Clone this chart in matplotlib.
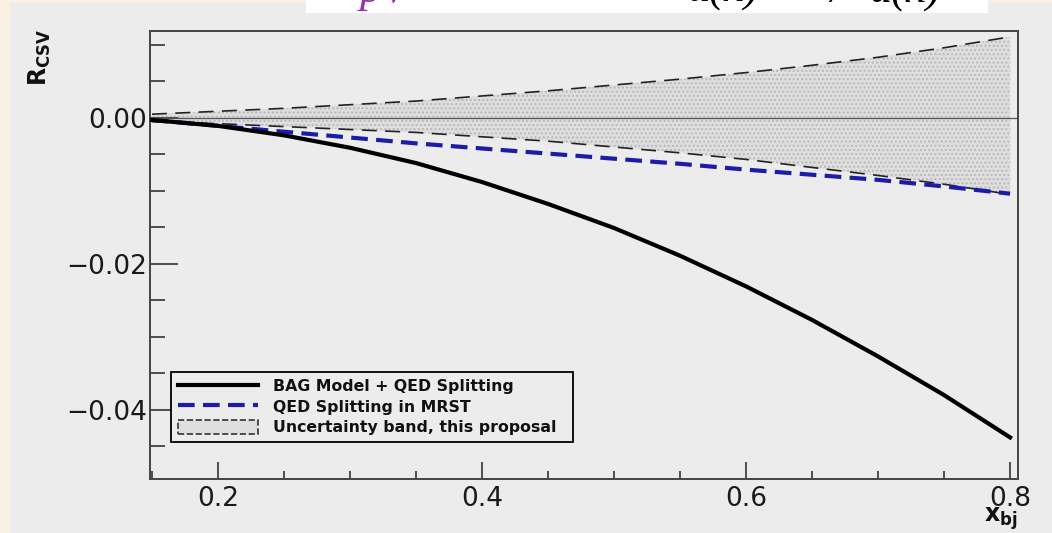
import matplotlib
matplotlib.use("Agg")
import matplotlib.pyplot as plt
from matplotlib.lines import Line2D
from matplotlib.patches import Patch, Rectangle
from matplotlib.ticker import MultipleLocator

# ================================== DADOS ==================================

x_bj = [0.15, 0.20, 0.25, 0.30, 0.35, 0.40, 0.45, 0.50, 0.55, 0.60, 0.65, 0.70, 0.75, 0.80]

bag_qed = [-0.0003, -0.0011, -0.0024, -0.0041, -0.0062, -0.0088, -0.0118,
           -0.0151, -0.0189, -0.0231, -0.0277, -0.0327, -0.0380, -0.0438]

qed_mrst = [-0.0003, -0.0011, -0.0019, -0.0027, -0.0035, -0.0042, -0.0049,
            -0.0056, -0.0063, -0.0071, -0.0078, -0.0085, -0.0094, -0.0104]

banda_sup = [0.0005, 0.0009, 0.0013, 0.0018, 0.0023, 0.0030, 0.0037,
             0.0045, 0.0053, 0.0062, 0.0072, 0.0083, 0.0096, 0.0111]

banda_inf = [-0.0005, -0.0008, -0.0012, -0.0016, -0.0020, -0.0026, -0.0032,
             -0.0040, -0.0048, -0.0057, -0.0068, -0.0079, -0.0091, -0.0105]

rotulos = ["BAG Model + QED Splitting", "QED Splitting in MRST",
           "Uncertainty band, this proposal"]

# ================================== FIGURA ==================================

W, H = 1052, 533
fig = plt.figure(figsize=(W / 100, H / 100), dpi=100)
fig.patch.set_facecolor("#fbf1e2")

# painel cinza do slide e caixa branca da fórmula (cortada no topo)
fig.patches.append(Rectangle((10 / W, 0), 1, 1 - 3 / H, transform=fig.transFigure,
                             facecolor="#ececec", edgecolor="none", zorder=-2))
fig.patches.append(Rectangle((306 / W, 1 - 13 / H), 682 / W, 13 / H, transform=fig.transFigure,
                             facecolor="white", edgecolor="none", zorder=-1))

# só a parte de baixo da fórmula aparece no recorte
y_base = 1 - 2 / H
fonte_formula = {"family": "Liberation Serif", "style": "italic", "size": 32, "va": "baseline"}
fig.text(360 / W, y_base, "pV", color="#9a2fb0", ha="left", **fonte_formula)
fig.text(688 / W, y_base, "u(x)", color="black", ha="left", **fonte_formula)
fig.text(836 / W, y_base, "/", color="black", ha="center", **fonte_formula)
fig.text(870 / W, y_base, "d(x)", color="black", ha="left", **fonte_formula)

ax = fig.add_axes([150 / W, (H - 479) / H, 868 / W, 448 / H])
ax.set_facecolor("#ececec")

# banda de incerteza
ax.fill_between(x_bj, banda_inf, banda_sup, facecolor="#dedede", edgecolor="#b8b8b8",
                hatch="....", linewidth=0, zorder=1)
ax.plot(x_bj, banda_sup, color="#222222", lw=1.2, dashes=(9, 5), zorder=3)
ax.plot(x_bj, banda_inf, color="#222222", lw=1.2, dashes=(9, 5), zorder=3)

ax.axhline(0, color="#555555", lw=0.9, zorder=2)

ax.plot(x_bj, qed_mrst, color="#1c1ca8", lw=3, dashes=(4, 2), zorder=4)
ax.plot(x_bj, bag_qed, color="black", lw=3, zorder=5)

ax.set_xlim(0.1485, 0.806)
ax.set_ylim(-0.0495, 0.0119)

ax.xaxis.set_major_locator(MultipleLocator(0.2))
ax.xaxis.set_minor_locator(MultipleLocator(0.05))
ax.yaxis.set_major_locator(MultipleLocator(0.02))
ax.yaxis.set_minor_locator(MultipleLocator(0.005))
ax.xaxis.set_major_formatter(plt.FuncFormatter(lambda v, p: f"{v:.1f}"))
ax.yaxis.set_major_formatter(plt.FuncFormatter(lambda v, p: f"{v:.2f}".replace("-", "\u2212")))

ax.tick_params(which="both", direction="in", top=False, right=False, colors="#333333",
               labelcolor="#1a1a1a", labelsize=19)
ax.tick_params(axis="y", which="major", length=20, width=1.2, pad=2)
ax.tick_params(axis="y", which="minor", length=11, width=1.2)
ax.tick_params(axis="x", which="major", length=12, width=1.2, pad=5)
ax.tick_params(axis="x", which="minor", length=6, width=1.2)

for lado in ax.spines.values():
    lado.set_color("#444444")
    lado.set_linewidth(1.4)

fig.text(40 / W, 1 - 57 / H, r"$\mathbf{R}_{\mathbf{CSV}}$", rotation=90, fontsize=17,
         ha="center", va="center", color="#111111")
fig.text(1018 / W, 1 - 519 / H, r"$\mathbf{x}_{\mathbf{bj}}$", fontsize=17,
         ha="right", va="center", color="#111111")

# legenda
alcas = [
    Line2D([], [], color="black", lw=3),
    Line2D([], [], color="#1c1ca8", lw=3, dashes=(4, 2)),
    Patch(facecolor="#dedede", edgecolor="#333333", linestyle="--", linewidth=1.2),
]
leg = fig.legend(alcas, rotulos, loc="lower left",
                 bbox_to_anchor=(171 / W, (H - 442) / H, 402 / W, 75 / H), mode="expand",
                 borderaxespad=0, fancybox=False, framealpha=1, facecolor="#ececec",
                 edgecolor="black", handlelength=5.1, handleheight=1.0, handletextpad=0.95,
                 labelspacing=0.32, borderpad=0.45,
                 prop={"family": "DejaVu Sans", "weight": "bold", "size": 11.3})
leg.get_frame().set_linewidth(1.3)
for t in leg.get_texts():
    t.set_color("#111111")

fig.savefig("out.png", dpi=100, facecolor=fig.get_facecolor())
